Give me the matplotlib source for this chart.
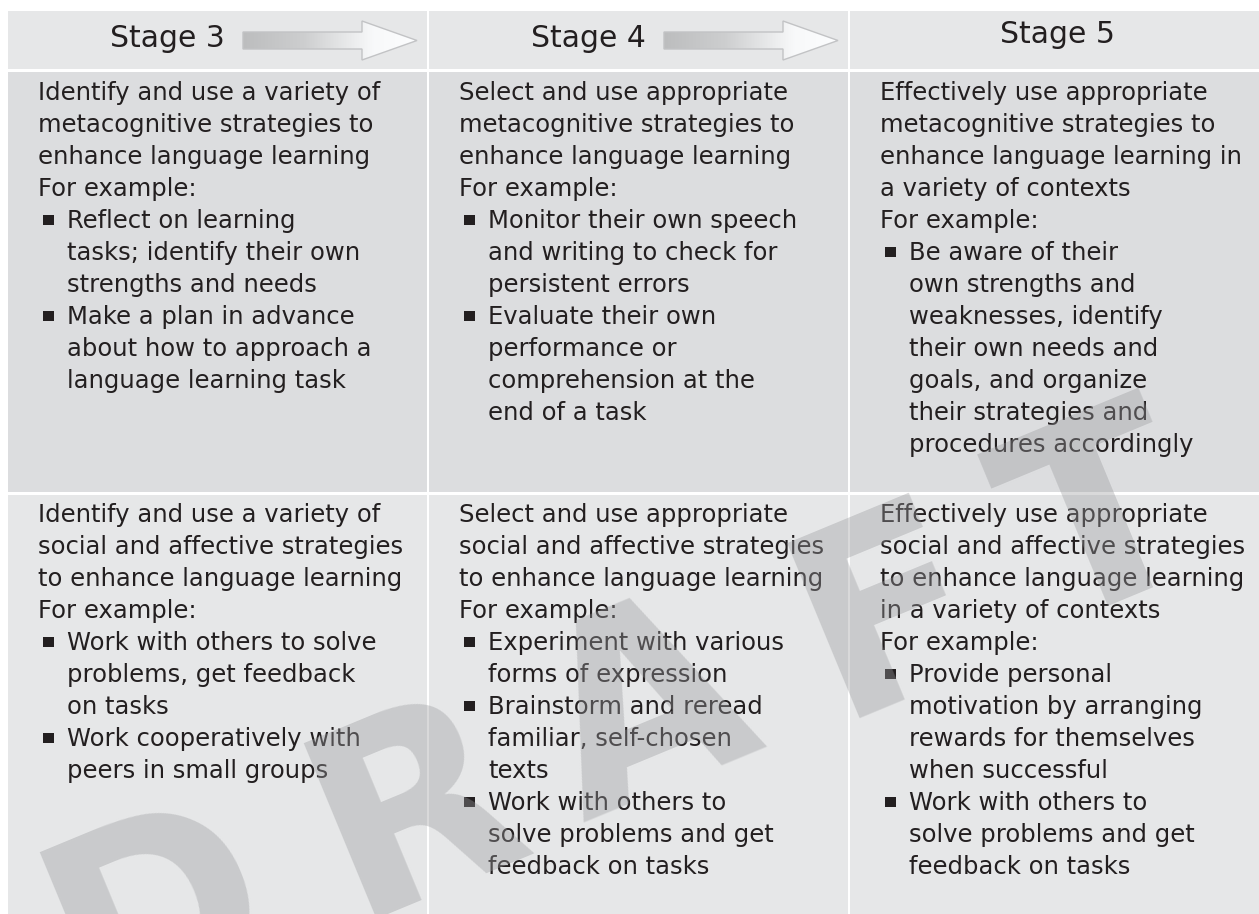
import matplotlib.pyplot as plt
import numpy as np
from matplotlib.patches import Rectangle, Polygon

# table content
stages = ["Stage 3", "Stage 4", "Stage 5"]

meta_intro = [
    ["Identify and use a variety of", "metacognitive strategies to",
     "enhance language learning", "For example:"],
    ["Select and use appropriate", "metacognitive strategies to",
     "enhance language learning", "For example:"],
    ["Effectively use appropriate", "metacognitive strategies to",
     "enhance language learning in", "a variety of contexts", "For example:"],
]
meta_bullets = [
    [["Reflect on learning", "tasks; identify their own", "strengths and needs"],
     ["Make a plan in advance", "about how to approach a", "language learning task"]],
    [["Monitor their own speech", "and writing to check for", "persistent errors"],
     ["Evaluate their own", "performance or", "comprehension at the", "end of a task"]],
    [["Be aware of their", "own strengths and", "weaknesses, identify",
      "their own needs and", "goals, and organize", "their strategies and",
      "procedures accordingly"]],
]

social_intro = [
    ["Identify and use a variety of", "social and affective strategies",
     "to enhance language learning", "For example:"],
    ["Select and use appropriate", "social and affective strategies",
     "to enhance language learning", "For example:"],
    ["Effectively use appropriate", "social and affective strategies",
     "to enhance language learning", "in a variety of contexts", "For example:"],
]
social_bullets = [
    [["Work with others to solve", "problems, get feedback", "on tasks"],
     ["Work cooperatively with", "peers in small groups"]],
    [["Experiment with various", "forms of expression"],
     ["Brainstorm and reread", "familiar, self-chosen", "texts"],
     ["Work with others to", "solve problems and get", "feedback on tasks"]],
    [["Provide personal", "motivation by arranging", "rewards for themselves",
      "when successful"],
     ["Work with others to", "solve problems and get", "feedback on tasks"]],
]

watermark = "DRAFT"
wm_offsets = [-832, -546, -297, -23, 208]

# layout (pixels)
col_x = [(8, 427), (429, 848), (850, 1259)]
row_y = [(11, 69), (72, 492), (495, 914)]
row_color = ["#e6e7e8", "#dcdddf", "#e6e7e8"]
first_base = [100, 522]
line_h = 32
ink = "#231f20"

fig = plt.figure(figsize=(12.59, 9.14), dpi=100)
ax = fig.add_axes([0, 0, 1, 1])
ax.set_xlim(0, 1259)
ax.set_ylim(914, 0)
ax.axis("off")

for (y0, y1), col in zip(row_y, row_color):
    for x0, x1 in col_x:
        ax.add_patch(Rectangle((x0, y0), x1 - x0, y1 - y0, facecolor=col,
                               edgecolor="none", zorder=1))

# header
for i, name in enumerate(stages):
    x0 = col_x[i][0]
    if i < 2:
        ax.text(x0 + 102, 47, name, fontsize=21.5, color=ink, va="baseline",
                ha="left", zorder=3)
        pts = np.array([(235, 32), (354, 32), (354, 21), (409, 40.5),
                        (354, 60), (354, 49), (235, 49)], dtype=float)
        pts[:, 0] += x0
        arrow = Polygon(pts, closed=True, facecolor="none",
                        edgecolor="#c2c3c5", lw=1.0, zorder=4)
        ax.add_patch(arrow)
        t = np.linspace(0, 1, 256)
        v = np.interp(t, [0, 0.35, 0.6, 0.75, 1], [188, 205, 232, 248, 252]) / 255
        grad = np.stack([v, v + 0.004, v + 0.008], axis=-1)[None, :, :].clip(0, 1)
        im = ax.imshow(grad, extent=(x0 + 235, x0 + 409, 60, 21),
                       aspect="auto", zorder=3)
        im.set_clip_path(arrow)
    else:
        ax.text((col_x[i][0] + col_x[i][1]) / 2 + 3, 43, name, fontsize=21.5,
                color=ink, va="baseline", ha="center", zorder=3)

ax.set_xlim(0, 1259)
ax.set_ylim(914, 0)

# body cells
for r, (intros, bullets) in enumerate([(meta_intro, meta_bullets),
                                       (social_intro, social_bullets)]):
    for c in range(3):
        x0 = col_x[c][0]
        k = 0
        for line in intros[c]:
            ax.text(x0 + 30, first_base[r] + k * line_h, line, fontsize=17.5,
                    color=ink, va="baseline", zorder=3)
            k += 1
        for item in bullets[c]:
            yb = first_base[r] + k * line_h
            ax.add_patch(Rectangle((x0 + 35, yb - 13), 11, 10.3,
                                   facecolor=ink, edgecolor="none", zorder=3))
            for line in item:
                ax.text(x0 + 59, first_base[r] + k * line_h, line,
                        fontsize=17.5, color=ink, va="baseline", zorder=3)
                k += 1

# DRAFT watermark
ang = 22.5
ca, sa = np.cos(np.radians(ang)), np.sin(np.radians(ang))
for ch, s in zip(watermark, wm_offsets):
    ax.text(857 + ca * s, 710 - sa * s, ch, fontsize=187, fontweight="bold",
            color="#9a9b9e", alpha=0.38, rotation=ang, rotation_mode="anchor",
            ha="left", va="baseline", zorder=10)

fig.savefig("out.png", dpi=100)
